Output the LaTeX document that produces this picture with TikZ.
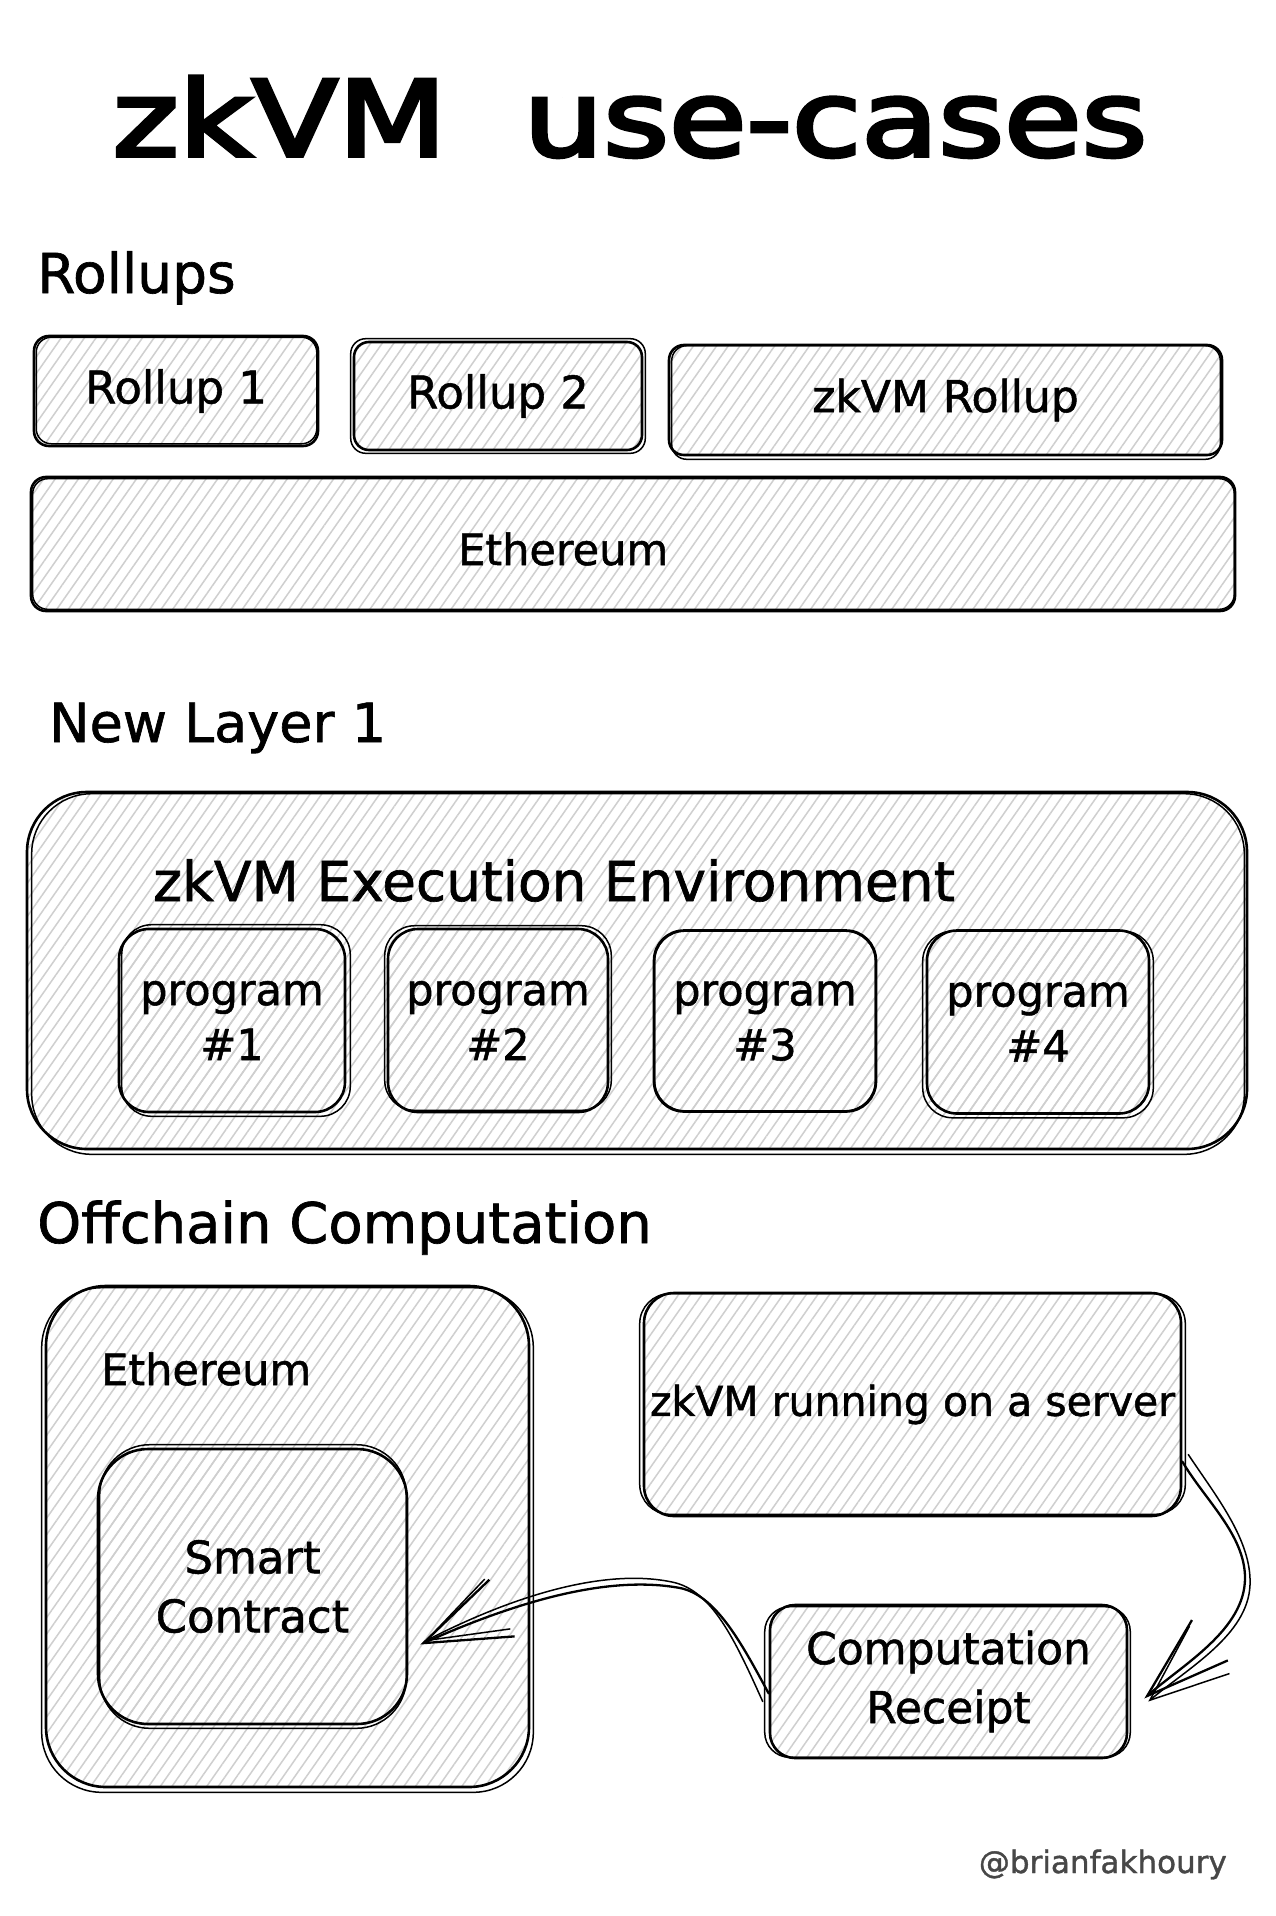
\documentclass[tikz,border=0pt]{standalone}
\usepackage{fontspec}
\setmainfont{DejaVu Sans}[FakeBold=1.2]
\newfontfamily\titlefont{DejaVu Sans}[FakeBold=3.5]
\usetikzlibrary{patterns.meta,arrows.meta,calc}
\newcommand\fsz[2]{\fontsize{#1}{#2}\selectfont}
% second, slightly offset outline of a box (sketchy look)
\newcommand\skout[6]{\draw[sktwo, rounded corners=#2] ([xshift=#3pt,yshift=#4pt]#1.north west) rectangle ([xshift=#5pt,yshift=#6pt]#1.south east);}
\begin{document}
\begin{tikzpicture}[x=1pt,y=-1pt,
  hatch/.style={pattern={Lines[angle=55,distance=9.5pt,line width=1.5pt]},pattern color=black!19},
  skbox/.style={draw, line width=2.6pt, hatch, inner sep=0pt, align=center, rounded corners=#1},
  sktwo/.style={line width=1.5pt},
  lbl/.style={inner sep=0pt, align=center},
  conn/.style={line width=2.3pt, line cap=round, line join=round},
  conntwo/.style={line width=1.5pt, line cap=round, line join=round},
]
\useasboundingbox (0,0) rectangle (1275,1916);
\fill[white] (0,0) rectangle (1275,1916);

% ---------- title ----------
\node[lbl, anchor=base] (title) at (630,156) {\titlefont\fsz{105}{120}\scalebox{1.2}[1]{zkVM\hspace{64pt}use-cases}};

% ---------- Rollups ----------
\node[lbl, anchor=base west] (hrollups) at (37,293) {\fsz{55}{66}Rollups};

\node[skbox=15pt, minimum width=284pt, minimum height=110pt, font=\fsz{45}{56}] (r1) at (176,391) {Rollup 1};
\skout{r1}{15pt}{3}{-2}{-2}{3}
\node[skbox=15pt, minimum width=288pt, minimum height=108pt, font=\fsz{45}{56}] (r2) at (498,396) {Rollup 2};
\skout{r2}{15pt}{-2}{2}{2}{-2}
\node[skbox=15pt, minimum width=553pt, minimum height=110pt, font=\fsz{44}{56}] (rzk) at (945.5,400) {zkVM Rollup};
\skout{rzk}{15pt}{4}{-2}{-3}{-3}

\node[skbox=15pt, minimum width=1204pt, minimum height=134pt] (eth) at (633,544) {};
\skout{eth}{15pt}{3}{-3}{-2}{3}
\node[lbl, anchor=base west, font=\fsz{43}{54}] (ethlbl) at (458,565) {Ethereum};

% ---------- New Layer 1 ----------
\node[lbl, anchor=base west] (hl1) at (49,742) {\fsz{54}{66}New Layer 1};

\node[skbox=60pt, minimum width=1220pt, minimum height=357pt] (l1) at (637,970.5) {};
\skout{l1}{60pt}{6}{-3}{-4}{-4}
\node[lbl, anchor=base west, font=\fsz{55}{66}] (zkee) at (153,901) {zkVM Execution Environment};

\node[skbox=30pt, minimum width=226pt, minimum height=183pt, font=\fsz{43}{55}] (p1) at (232,1020.5) {program\\\#1};
\skout{p1}{30pt}{4}{3}{4}{-3}
\node[skbox=30pt, minimum width=220pt, minimum height=183pt, font=\fsz{43}{55}] (p2) at (498,1020.5) {program\\\#2};
\skout{p2}{30pt}{-2}{2}{2}{3}
\node[skbox=30pt, minimum width=222pt, minimum height=181pt, font=\fsz{43}{55}] (p3) at (765,1021) {program\\\#3};
\skout{p3}{30pt}{2}{-2}{-2}{2}
\node[skbox=30pt, minimum width=222pt, minimum height=183pt, font=\fsz{43}{55}] (p4) at (1038,1022) {program\\\#4};
\skout{p4}{30pt}{-3}{-2}{3}{-3}

% ---------- Offchain Computation ----------
\node[lbl, anchor=base west] (hoff) at (37,1243) {\fsz{56}{66}Offchain Computation};

\node[skbox=60pt, minimum width=483pt, minimum height=501pt] (eth2) at (287.5,1536.5) {};
\skout{eth2}{60pt}{-3}{-3}{3}{-4}
\node[lbl, anchor=base west, font=\fsz{43}{54}] (eth2lbl) at (101,1385) {Ethereum};

\node[skbox=50pt, minimum width=309pt, minimum height=275pt, font=\fsz{45}{59}] (sc) at (252.5,1586.5) {Smart\\Contract};
\skout{sc}{50pt}{3}{3}{-2}{-3}

\node[skbox=30pt, minimum width=537pt, minimum height=223pt, font=\fsz{41}{52}] (srv) at (912.5,1404.5) {zkVM running on a server};
\skout{srv}{30pt}{-3}{-2}{3}{3}

\node[skbox=25pt, minimum width=357pt, minimum height=153pt, font=\fsz{44}{59}] (rcpt) at (948.5,1681.5) {Computation\\Receipt};
\skout{rcpt}{25pt}{-4}{-3}{2}{2}

% ---------- connectors ----------
\draw[conn, -{Straight Barb[length=84pt,width=54pt]}]
  ([yshift=-57pt]srv.east) .. controls (1205,1500) and (1245,1535) .. (1245,1578)
  .. controls (1245,1630) and (1182,1665) .. ([xshift=16pt,yshift=-17pt]rcpt.east);
\draw[conntwo, -{Straight Barb[length=78pt,width=62pt]}]
  ([xshift=6pt,yshift=-50pt]srv.east) .. controls (1215,1495) and (1252,1540) .. (1250,1585)
  .. controls (1248,1635) and (1188,1668) .. ([xshift=20pt,yshift=-20pt]rcpt.east);

\draw[conn, -{Straight Barb[length=86pt,width=62pt]}]
  ([yshift=-12pt]rcpt.west) .. controls (740,1640) and (715,1595) .. (680,1588)
  .. controls (610,1575) and (520,1600) .. ([xshift=12pt,yshift=-58pt]sc.east);
\draw[conntwo, -{Straight Barb[length=80pt,width=56pt]}]
  ([xshift=-6pt,yshift=-20pt]rcpt.west) .. controls (735,1640) and (712,1590) .. (672,1582)
  .. controls (605,1568) and (515,1595) .. ([xshift=16pt,yshift=-55pt]sc.east);

% ---------- credit ----------
\node[lbl, anchor=base east, text=black!72, font=\fsz{31}{38}] (credit) at (1227,1873) {@brianfakhoury};
\end{tikzpicture}
\end{document}
